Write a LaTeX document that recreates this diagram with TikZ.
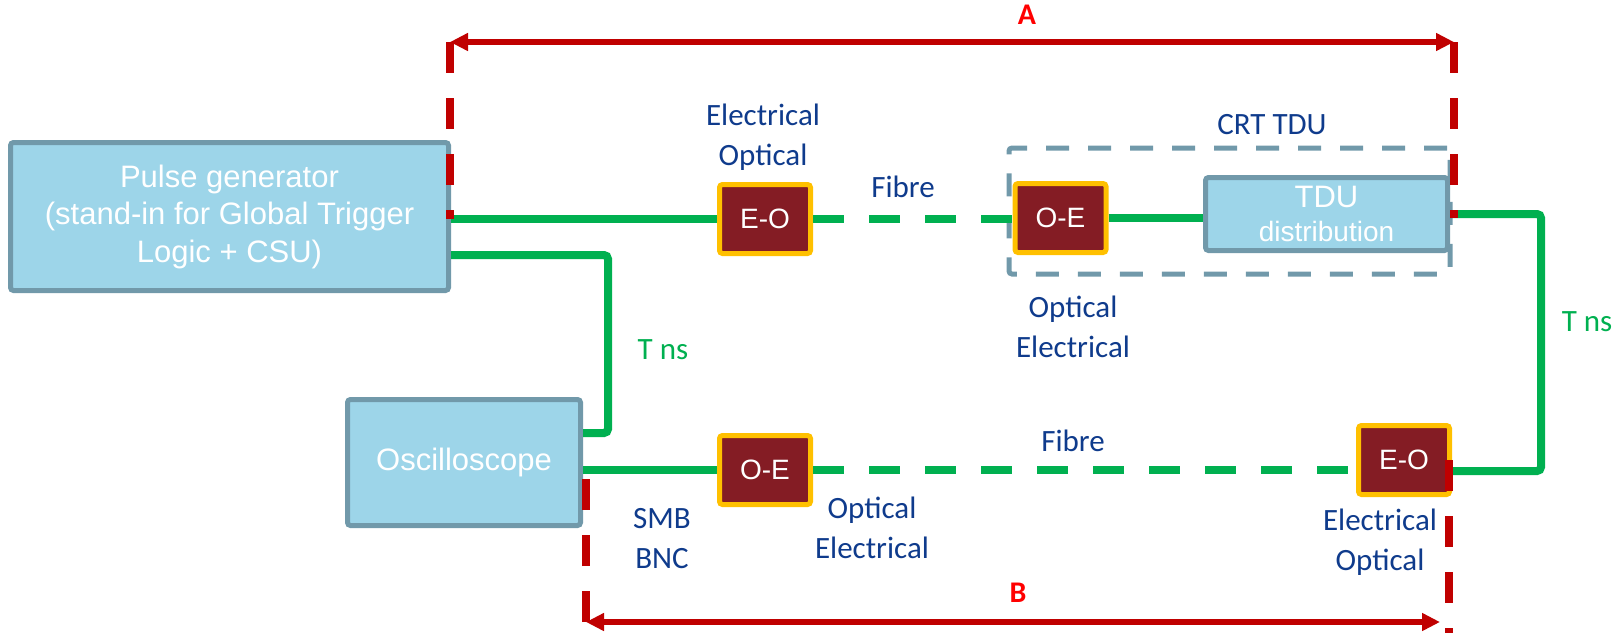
\documentclass[tikz,border=0pt]{standalone}
\usepackage{xcolor}
\usepackage{fontspec}
\usepackage{tikz}
\usetikzlibrary{arrows.meta, positioning, calc}
\setmainfont{Carlito}
\newfontfamily\arialfont{Liberation Sans}

\definecolor{boxfill}{HTML}{9DD5E9}
\definecolor{boxedge}{HTML}{7199AA}
\definecolor{convfill}{HTML}{841C24}
\definecolor{convedge}{HTML}{FFC000}
\definecolor{wiregreen}{HTML}{00B050}
\definecolor{lblblue}{HTML}{0F3B8C}
\definecolor{dimred}{HTML}{C00000}
\definecolor{labelred}{HTML}{FF0000}

\begin{document}
\begin{tikzpicture}[
    x=1pt, y=-1pt,
    unit/.style={
        rectangle, rounded corners=3pt, draw=boxedge, fill=boxfill,
        line width=5pt, text=white, align=center, inner sep=0pt,
        font=\arialfont\fontsize{31}{37.5}\selectfont
    },
    conv/.style={
        rectangle, rounded corners=3pt, draw=convedge, fill=convfill,
        line width=5pt, text=white, inner sep=0pt,
        minimum width=91pt, minimum height=69pt,
        font=\arialfont\fontsize{28}{34}\selectfont
    },
    group/.style={
        rectangle, rounded corners=3pt, draw=boxedge, line width=5pt,
        dash pattern=on 23pt off 19pt, inner sep=0pt
    },
    lbl/.style={text=lblblue, align=center, inner sep=0pt, font=\fontsize{31}{40}\selectfont},
    delay/.style={text=wiregreen, inner sep=0pt, font=\fontsize{31}{38}\selectfont},
    dimlbl/.style={text=labelred, inner sep=0pt, font=\bfseries\fontsize{30}{36}\selectfont},
    wire/.style={wiregreen, line width=8pt, rounded corners=4pt},
    fibre/.style={wire, dash pattern=on 31pt off 25pt},
    tick/.style={dimred, line width=8pt, dash pattern=on 31pt off 25pt},
    dim/.style={dimred, line width=6pt,
        {Triangle[length=18pt,width=17pt]}-{Triangle[length=18pt,width=17pt]}}
]
    \useasboundingbox (0,0) rectangle (1621,633);

    % main units
    \node[unit, minimum width=438pt, minimum height=148pt] (pulse) at (229.5,216.5)
        {Pulse generator\\(stand-in for Global Trigger\\Logic + CSU)};
    \node[unit, minimum width=233pt, minimum height=126pt] (scope) at (464,462.5) {Oscilloscope};
    \node[group, minimum width=441pt, minimum height=126pt] (crt) at (1229.5,211) {};
    \node[unit, minimum width=242pt, minimum height=73pt] (tdu) at (1326.5,214)
        {TDU\\[-3pt]{\fontsize{28}{34}\selectfont distribution}};

    % converters
    \node[conv] (eo1) at (765,219)    {E-O};
    \node[conv] (oe1) at (1060.5,218) {O-E};
    \node[conv] (oe2) at (765,470)    {O-E};
    \node[conv] (eo2) at (1404,460)   {E-O};

    % labels
    \node[lbl] (eo1lbl) at (763,137)  {Electrical\\Optical};
    \node[lbl] (fib1)   at (903,187)  {Fibre};
    \node[lbl] (crtlbl) at (1272,125) {CRT TDU};
    \node[lbl] (oe1lbl) at (1073,327) {Optical\\Electrical};
    \node[lbl] (fib2)   at (1073,441) {Fibre};
    \node[lbl] (conn)   at (662,539)  {SMB\\BNC};
    \node[lbl] (oe2lbl) at (872,528)  {Optical\\Electrical};
    \node[lbl] (eo2lbl) at (1380,542) {Electrical\\Optical};
    \node[delay] (tns1) at (663,350)  {T ns};
    \node[delay] (tns2) at (1587,322) {T ns};

    % cabling
    \draw[wire] (pulse.east |- eo1.west) -- (eo1.west);
    \draw[fibre] (eo1.east) -- (eo1.east -| oe1.west);
    \draw[wire] (oe1.east) -- (oe1.east -| tdu.west);
    \draw[wire] ([yshift=-38.5pt]pulse.east) -- ++(157,0) |- ([yshift=29.5pt]scope.east);
    \draw[wire] (scope.east |- oe2.west) -- (oe2.west);
    \draw[fibre] (oe2.east) -- (oe2.east -| eo2.west);
    \draw[wire] ([yshift=-11pt]eo2.east) -- ++(89,0) |- (tdu.east);

    % measured spans
    \coordinate (aL) at (450,42);
    \coordinate (aR) at (1454,42);
    \coordinate (bL) at (586,622);
    \coordinate (bR) at (1449,622);
    \coordinate (bEnd) at (1449,633);
    \draw[tick] (aL) -- (aL |- eo1.west);
    \draw[tick] (aR) -- (aR |- oe1.east);
    \draw[tick] (bL) -- (bL |- oe2.west);
    \draw[tick] (bR |- eo2.east) -- (bEnd);
    \draw[dim] (aL) -- (aR);
    \draw[dim] (bL) -- ([xshift=-9pt]bR);
    \node[dimlbl] (alab) at (1027,15)  {A};
    \node[dimlbl] (blab) at (1018,593) {B};
\end{tikzpicture}
\end{document}
